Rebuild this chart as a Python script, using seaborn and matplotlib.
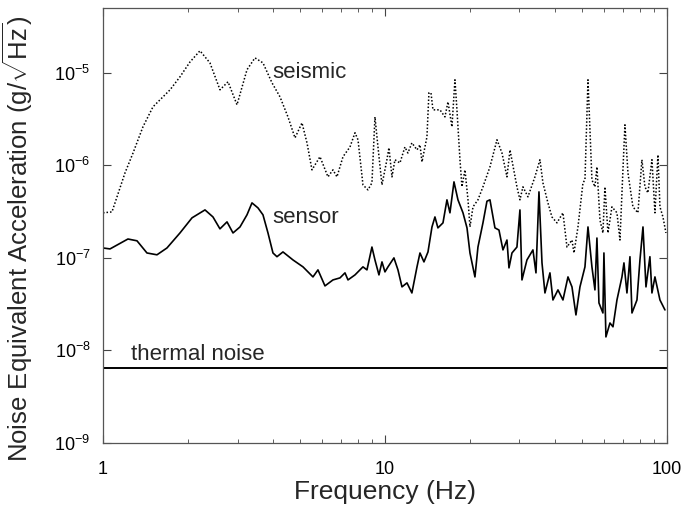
import matplotlib
matplotlib.use("Agg")
import matplotlib.pyplot as plt
import matplotlib.ticker as mticker
import seaborn as sns
import pandas as pd

# seismic background (dotted)
seismic_freq = [1.00, 1.076, 1.103, 1.197, 1.278, 1.386, 1.504, 1.729, 1.875, 2.035,
                2.208, 2.395, 2.60, 2.776, 2.987, 3.241, 3.459, 3.693, 3.975, 4.243,
                4.529, 4.797, 5.078, 5.290, 5.510, 5.882, 6.279, 6.540, 6.757, 7.098,
                7.515, 7.829, 8.024, 8.356, 8.703, 8.991, 9.216, 9.445, 9.759, 10.16,
                10.33, 10.59, 10.85, 11.30, 11.77, 12.06, 12.46, 12.99, 13.31, 13.53,
                14.09, 14.32, 14.56, 14.80, 15.67, 16.32, 16.73, 17.28, 17.71, 18.00,
                18.45, 18.75, 19.22, 19.70, 20.02, 20.52, 21.37, 22.26, 23.57, 24.96,
                26.00, 27.08, 27.76, 29.38, 30.11, 30.86, 32.14, 34.03, 35.45, 36.33,
                37.84, 39.10, 40.73, 42.78, 44.20, 46.05, 46.81, 48.36, 50.37, 51.20,
                52.48, 54.20, 55.55, 56.46, 57.87, 59.29, 60.27, 61.78, 63.83, 66.49,
                68.14, 69.82, 70.97, 72.73, 75.75, 78.91, 81.52, 83.56, 85.62, 88.48,
                90.67, 92.92, 94.45, 96.79, 99.2]
seismic_amp = [3.07e-7, 3.14e-7, 3.93e-7, 8.3e-7, 1.36e-6, 2.61e-6, 4.29e-6, 6.55e-6, 9.05e-6, 1.31e-5,
               1.73e-5, 1.28e-5, 6.55e-6, 8.0e-6, 4.51e-6, 1.08e-5, 1.45e-5, 1.28e-5, 7.8e-6, 5.5e-6,
               3.34e-6, 1.98e-6, 2.88e-6, 1.75e-6, 8.94e-7, 1.24e-6, 7.51e-7, 8.94e-7, 7.51e-7, 1.24e-6,
               1.58e-6, 2.25e-6, 1.89e-6, 6.15e-7, 5.43e-7, 6.47e-7, 3.34e-6, 1.58e-6, 6.15e-7, 1.15e-6,
               1.55e-6, 7.51e-7, 1.15e-6, 1.06e-6, 1.58e-6, 1.36e-6, 1.75e-6, 1.47e-6, 1.67e-6, 1.09e-6,
               2.03e-6, 6.08e-6, 6.08e-6, 3.98e-6, 3.98e-6, 3.34e-6, 4.86e-6, 2.61e-6, 8.4e-6, 3.98e-6,
               1.15e-6, 5.86e-7, 8.94e-7, 4.24e-7, 2.16e-7, 3.56e-7, 4.24e-7, 5.86e-7, 9.63e-7, 1.89e-6,
               1.36e-6, 7.51e-7, 1.47e-6, 5.86e-7, 4.24e-7, 5.86e-7, 4.57e-7, 7.51e-7, 1.15e-6, 6.47e-7,
               3.93e-7, 2.77e-7, 2.39e-7, 3.07e-7, 1.31e-7, 1.56e-7, 1.13e-7, 2.16e-7, 6.47e-7, 6.97e-7,
               8.4e-6, 6.97e-7, 5.86e-7, 9.63e-7, 2.57e-7, 1.86e-7, 5.86e-7, 1.86e-7, 3.56e-7, 3.07e-7,
               1.56e-7, 8.94e-7, 2.74e-6, 8.3e-7, 3.56e-7, 3.07e-7, 1.15e-6, 5.86e-7, 5.04e-7, 1.15e-6,
               3.07e-7, 1.30e-6, 3.56e-7, 2.77e-7, 1.86e-7]

# sensor output (solid)
sensor_freq = [1.00, 1.059, 1.226, 1.320, 1.432, 1.554, 1.686, 1.875, 2.069, 2.300,
               2.455, 2.599, 2.753, 2.891, 3.061, 3.241, 3.376, 3.545, 3.693, 3.847,
               4.007, 4.140, 4.348, 4.719, 5.120, 5.555, 5.786, 6.127, 6.540, 6.926,
               7.215, 7.394, 7.829, 8.356, 8.633, 8.991, 9.216, 9.521, 9.759, 10.0,
               10.25, 10.76, 11.12, 11.49, 11.97, 12.46, 12.99, 13.31, 13.75, 14.21,
               14.68, 15.04, 15.41, 16.06, 16.59, 17.00, 17.57, 18.15, 18.91, 19.54,
               20.02, 20.85, 21.37, 22.26, 23.00, 23.57, 24.55, 25.37, 26.21, 27.08,
               27.53, 28.21, 29.38, 30.11, 30.61, 31.88, 33.48, 34.32, 35.17, 36.05,
               36.93, 38.47, 39.42, 41.07, 42.78, 44.57, 46.05, 47.57, 49.15, 51.20,
               52.48, 54.20, 55.55, 56.46, 57.40, 59.29, 59.78, 60.76, 62.8, 64.37,
               66.49, 69.26, 70.40, 72.14, 73.94, 75.16, 78.29, 80.23, 82.23, 84.27,
               87.02, 88.48, 90.67, 94.45, 98.4]
sensor_amp = [1.28e-7, 1.25e-7, 1.60e-7, 1.53e-7, 1.13e-7, 1.08e-7, 1.28e-7, 1.86e-7, 2.71e-7, 3.30e-7,
              2.77e-7, 2.06e-7, 2.45e-7, 1.86e-7, 2.16e-7, 2.92e-7, 3.93e-7, 3.47e-7, 2.92e-7, 1.86e-7,
              1.13e-7, 1.03e-7, 1.16e-7, 9.5e-8, 8.0e-8, 6.23e-8, 7.42e-8, 4.98e-8, 5.78e-8, 6.08e-8,
              6.89e-8, 5.78e-8, 6.55e-8, 8.0e-8, 7.42e-8, 1.31e-7, 9.5e-8, 6.55e-8, 9.05e-8, 7.06e-8,
              8.0e-8, 1.0e-7, 7.42e-8, 4.86e-8, 5.37e-8, 4.18e-8, 8.0e-8, 1.13e-7, 9.05e-8, 1.16e-7,
              2.16e-7, 2.77e-7, 2.11e-7, 2.39e-7, 4.24e-7, 3.07e-7, 6.63e-7, 4.24e-7, 3.07e-7, 2.11e-7,
              1.13e-7, 6.23e-8, 1.31e-7, 2.39e-7, 4.1e-7, 4.24e-7, 2.11e-7, 2.0e-7, 1.22e-7, 1.56e-7,
              7.8e-8, 1.13e-7, 1.31e-7, 3.30e-7, 5.78e-8, 9.5e-8, 1.22e-7, 6.89e-8, 5.17e-7, 8.83e-8,
              4.18e-8, 6.89e-8, 3.51e-8, 4.51e-8, 3.51e-8, 6.23e-8, 4.86e-8, 2.42e-8, 4.86e-8, 8.0e-8,
              2.16e-7, 8.0e-8, 4.51e-8, 1.64e-7, 3.26e-8, 2.54e-8, 1.13e-7, 1.40e-8, 1.98e-8, 1.80e-8,
              3.51e-8, 6.23e-8, 8.83e-8, 4.18e-8, 1.03e-7, 2.54e-8, 3.51e-8, 9.5e-8, 2.16e-7, 4.86e-8,
              1.03e-7, 4.18e-8, 6.23e-8, 3.51e-8, 2.74e-8]

# thermal noise floor
thermal_freq = [1.0, 100.0]
thermal_amp = [6.4e-9, 6.4e-9]

sns.set_style("ticks")
plt.rcParams['font.family'] = ['Liberation Sans', 'DejaVu Sans']
plt.rcParams['mathtext.fontset'] = 'custom'
plt.rcParams['mathtext.rm'] = 'Liberation Sans'
plt.rcParams['mathtext.it'] = 'Liberation Sans:italic'
plt.rcParams['axes.unicode_minus'] = False

fig = plt.figure(figsize=(6.94, 5.08), dpi=100)
ax = fig.add_axes([0.1484, 0.128, 0.8126, 0.856])
ax.set_xscale('log')
ax.set_yscale('log')

seismic_df = pd.DataFrame({'freq': seismic_freq, 'amp': seismic_amp})
sensor_df = pd.DataFrame({'freq': sensor_freq, 'amp': sensor_amp})
thermal_df = pd.DataFrame({'freq': thermal_freq, 'amp': thermal_amp})

sns.lineplot(data=seismic_df, x='freq', y='amp', ax=ax, color='black',
             linestyle=(0, (1, 1.3)), linewidth=1.1, estimator=None)
sns.lineplot(data=sensor_df, x='freq', y='amp', ax=ax, color='black',
             linewidth=1.2, estimator=None)
sns.lineplot(data=thermal_df, x='freq', y='amp', ax=ax, color='black',
             linewidth=1.4, estimator=None)

ax.set_xlim(1, 100)
ax.set_ylim(1e-9, 5e-5)

ax.set_xticks([1, 10, 100])
ax.xaxis.set_major_formatter(mticker.FuncFormatter(lambda v, p: f"{v:g}"))
ax.xaxis.set_minor_locator(mticker.LogLocator(base=10, subs=range(2, 10)))
ax.xaxis.set_minor_formatter(mticker.NullFormatter())
ax.set_yticks([1e-9, 1e-8, 1e-7, 1e-6, 1e-5])
ax.yaxis.set_minor_locator(mticker.NullLocator())

ax.tick_params(axis='both', which='both', direction='in', top=True, right=True,
               colors='#444444', labelcolor='black', labelsize=13)
ax.tick_params(axis='both', which='major', length=6, width=0.8)
ax.tick_params(axis='both', which='minor', length=3, width=0.6)
ax.tick_params(axis='x', which='major', pad=13)
ax.tick_params(axis='y', which='major', pad=9)
for s in ax.spines.values():
    s.set_color('#555555')
    s.set_linewidth(0.9)

ax.set_xlabel('Frequency (Hz)', fontsize=19)
ax.set_ylabel(r'Noise Equivalent Acceleration (g/$\sqrt{\mathrm{Hz}}$)', fontsize=18.5)
ax.xaxis.set_label_coords(0.5, -0.085)
ax.yaxis.set_label_coords(-0.12, 0.47)

ax.text(4.0, 1.02e-5, 'seismic', fontsize=16, va='center', ha='left')
ax.text(4.0, 2.7e-7, 'sensor', fontsize=16, va='center', ha='left')
ax.text(1.257, 7.9e-9, 'thermal noise', fontsize=16, va='baseline', ha='left')

fig.savefig('out.png', dpi=100)
plt.close(fig)
